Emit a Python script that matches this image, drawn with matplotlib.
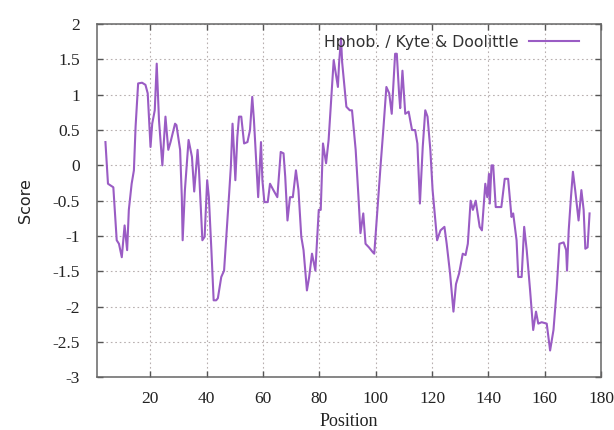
"""Kyte & Doolittle hydropathy profile, gnuplot-like look."""

import matplotlib
matplotlib.use("Agg")
import matplotlib.pyplot as plt

# digitised vertices of the hydropathy trace
position = [
    4.1, 5.0, 6.9, 8.1, 8.9, 9.9, 10.9, 11.8, 12.4, 13.4, 14.2, 14.8, 15.7,
    17.1, 18.3, 19.1, 20.1, 20.7, 21.6, 22.3, 23.1, 24.3, 25.4, 26.4, 27.2,
    28.8, 29.3, 30.6, 31.2, 31.5, 32.3, 33.6, 34.8, 35.6, 36.8, 37.3, 38.5,
    39.3, 40.2, 40.8, 41.7, 42.5, 43.4, 44.0, 45.2, 46.2, 47.0, 48.0, 48.6,
    49.2, 49.7, 50.2, 50.9, 51.5, 52.3, 53.3, 54.5, 55.4, 56.2, 56.8, 57.7,
    58.3, 59.3, 59.8, 60.5, 61.7, 62.5, 63.7, 65.1, 66.3, 67.3, 67.9, 68.7,
    69.6, 70.6, 71.7, 72.6, 73.6, 74.4, 75.6, 76.4, 77.4, 78.6, 79.8, 80.5,
    81.3, 82.4, 83.3, 85.1, 86.6, 87.0, 87.7, 88.1, 89.6, 90.8, 91.6, 92.9,
    93.9, 94.6, 95.6, 96.4, 97.6, 99.0, 99.5, 100.6, 101.8, 102.7, 103.8,
    104.8, 105.7, 106.9, 107.5, 108.3, 108.7, 109.5, 110.5, 111.7, 112.9,
    114.0, 114.8, 115.7, 116.7, 117.6, 118.4, 119.4, 120.2, 121.8, 123.0,
    124.4, 125.2, 126.4, 127.6, 128.5, 129.6, 130.9, 131.9, 132.7, 133.7,
    134.5, 135.5, 136.9, 137.7, 138.9, 139.6, 140.2, 140.5, 141.1, 141.7,
    142.6, 144.6, 145.8, 147.0, 148.2, 148.8, 150.0, 150.6, 151.8, 152.7,
    153.6, 154.8, 155.9, 156.9, 157.7, 158.9, 160.7, 161.9, 163.1, 164.2,
    165.2, 166.7, 167.6, 167.9, 168.5, 169.3, 170.0, 170.8, 172.0, 173.0,
    173.8, 174.4, 175.2, 175.9,
]
score = [
    0.33, -0.26, -0.31, -1.06, -1.11, -1.30, -0.85, -1.20, -0.63, -0.26, -0.07,
    0.55, 1.16, 1.17, 1.14, 1.02, 0.26, 0.59, 0.78, 1.44, 0.64, 0.00, 0.69,
    0.22, 0.33, 0.59, 0.57, 0.22, -0.45, -1.06, -0.35, 0.36, 0.12, -0.37, 0.22,
    -0.07, -1.06, -1.01, -0.21, -0.45, -1.20, -1.91, -1.91, -1.88, -1.58,
    -1.49, -1.01, -0.40, -0.02, 0.59, 0.22, -0.21, 0.40, 0.69, 0.69, 0.31,
    0.33, 0.50, 0.97, 0.64, -0.02, -0.45, 0.33, -0.21, -0.52, -0.52, -0.26,
    -0.35, -0.45, 0.19, 0.17, -0.16, -0.78, -0.45, -0.45, -0.07, -0.35, -1.01,
    -1.20, -1.77, -1.58, -1.25, -1.49, -0.63, -0.63, 0.31, 0.03, 0.36, 1.49,
    1.11, 1.44, 1.80, 1.46, 0.83, 0.78, 0.78, 0.22, -0.45, -0.96, -0.68, -1.11,
    -1.16, -1.23, -1.25, -0.63, 0.03, 0.50, 1.11, 1.02, 0.73, 1.58, 1.58, 1.02,
    0.81, 1.34, 0.73, 0.76, 0.50, 0.50, 0.31, -0.54, 0.26, 0.78, 0.69, 0.22,
    -0.35, -1.06, -0.92, -0.87, -1.11, -1.53, -2.07, -1.68, -1.53, -1.25,
    -1.27, -1.11, -0.50, -0.63, -0.50, -0.87, -0.92, -0.26, -0.45, -0.12,
    -0.54, 0.00, 0.00, -0.59, -0.59, -0.19, -0.19, -0.73, -0.68, -1.06, -1.58,
    -1.58, -0.87, -1.20, -1.77, -2.33, -2.07, -2.24, -2.22, -2.24, -2.62,
    -2.33, -1.77, -1.11, -1.09, -1.20, -1.49, -0.92, -0.45, -0.09, -0.35,
    -0.78, -0.35, -0.63, -1.18, -1.16, -0.68,
]

x_ticks = [20, 40, 60, 80, 100, 120, 140, 160, 180]
y_ticks = [-3, -2.5, -2, -1.5, -1, -0.5, 0, 0.5, 1, 1.5, 2]
y_labels = ["-3", "-2.5", "-2", "-1.5", "-1", "-0.5", "0", "0.5", "1", "1.5", "2"]

LINE = "#9a5cc4"
SERIF = "Liberation Serif"

fig = plt.figure(figsize=(6.14, 4.30), dpi=100)
ax = fig.add_axes([0.1575, 0.1225, 0.8215, 0.8215])

ax.plot(position, score, color=LINE, linewidth=1.5,
        label="Hphob. / Kyte & Doolittle", zorder=3)

ax.set_xlim(1, 180)
ax.set_ylim(-3, 2)
ax.set_xticks(x_ticks)
ax.set_yticks(y_ticks)
ax.set_yticklabels(y_labels)

for lab in ax.get_xticklabels() + ax.get_yticklabels():
    lab.set_fontfamily(SERIF)
    lab.set_fontsize(12.5)
    lab.set_color("#222222")

ax.tick_params(direction="in", length=4, width=1, color="#555555",
               top=True, right=True)
ax.tick_params(axis="x", pad=10)
ax.tick_params(axis="y", pad=12)

ax.grid(True, color="#b8b0b0", linestyle=(0, (1.5, 2.5)), linewidth=0.8)
for sp in ax.spines.values():
    sp.set_color("#666666")
    sp.set_linewidth(1.1)

ax.set_xlabel("Position", fontfamily=SERIF, fontsize=13, color="#222222",
              labelpad=4)
ax.set_ylabel("Score", fontfamily="DejaVu Sans", fontsize=11.5,
              color="#222222", labelpad=14)

leg = ax.legend(loc="upper right", bbox_to_anchor=(0.985, 1.01),
                markerfirst=False, frameon=False, handlelength=3.2,
                handletextpad=0.7, fontsize=11.3)
for t in leg.get_texts():
    t.set_color("#333333")

fig.savefig("out.png", dpi=100)
